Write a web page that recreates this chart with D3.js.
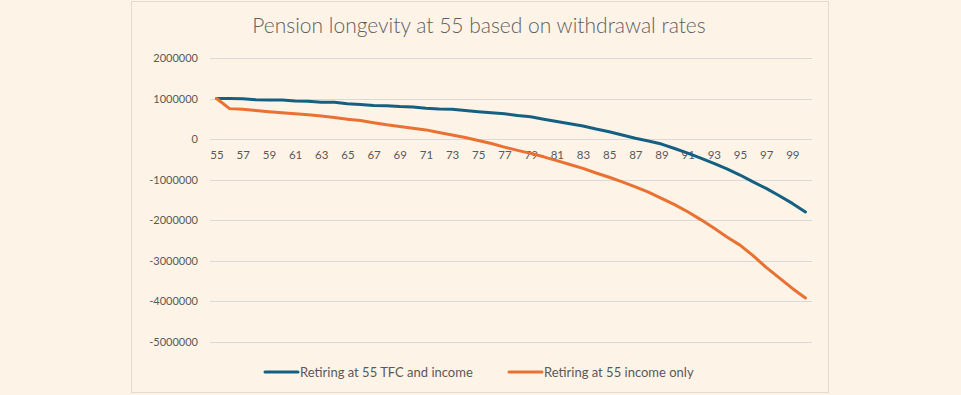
<!DOCTYPE html>
<html>
<head>
<meta charset="utf-8">
<script src="https://cdn.jsdelivr.net/npm/d3@7"></script>
<style>
  html, body { margin: 0; padding: 0; background: #FDF3E7; }
  svg { display: block; }
  text { font-family: Lato, "Open Sans", sans-serif; }
</style>
</head>
<body>
<svg id="chart" width="961" height="395"></svg>
<script>
const ages = d3.range(55, 101);
const tfcAndIncome = [
  1000000, 1000000, 995000, 970000, 965000, 960000, 940000, 935000, 910000, 905000,
  870000, 850000, 825000, 820000, 800000, 790000, 760000, 740000, 735000, 705000,
  675000, 650000, 625000, 580000, 550000, 490000, 430000, 375000, 320000, 245000,
  180000, 100000, 20000, -50000, -125000, -235000, -350000, -470000, -600000, -740000,
  -890000, -1060000, -1220000, -1400000, -1590000, -1800000
];
const incomeOnly = [
  1000000, 750000, 735000, 705000, 675000, 650000, 625000, 600000, 570000, 530000,
  490000, 455000, 400000, 350000, 310000, 265000, 225000, 160000, 100000, 35000,
  -35000, -110000, -200000, -280000, -355000, -440000, -535000, -630000, -725000, -840000,
  -945000, -1060000, -1180000, -1310000, -1465000, -1620000, -1795000, -1990000, -2200000, -2420000,
  -2620000, -2880000, -3170000, -3430000, -3690000, -3925000
];
const yTicks = [2000000, 1000000, 0, -1000000, -2000000, -3000000, -4000000, -5000000];
const seriesNames = ["Retiring at 55 TFC and income", "Retiring at 55 income only"];
const seriesColors = ["#156082", "#E97132"];
const title = "Pension longevity at 55 based on withdrawal rates";

const svg = d3.select("#chart");

// chart frame
svg.append("rect")
  .attr("x", 131.5).attr("y", 1.5).attr("width", 697).attr("height", 391)
  .attr("fill", "#FDF3E7").attr("stroke", "#E2DBD1").attr("stroke-width", 1);

const x = d3.scalePoint().domain(ages).range([210, 812]).padding(0.5);
const y = d3.scaleLinear().domain([-5000000, 2000000]).range([341.5, 58]);

// title
svg.append("text")
  .attr("x", 479).attr("y", 33)
  .attr("text-anchor", "middle")
  .attr("font-size", 21)
  .attr("font-weight", 300)
  .attr("fill", "#5F5F5F")
  .text(title);

// gridlines
svg.append("g").selectAll("line").data(yTicks).join("line")
  .attr("x1", 210).attr("x2", 812)
  .attr("y1", d => Math.round(y(d)) + 0.5).attr("y2", d => Math.round(y(d)) + 0.5)
  .attr("stroke", "#D9D9D9").attr("stroke-width", 1);

// y axis
const yAxis = d3.axisLeft(y).tickValues(yTicks).tickSize(0).tickPadding(0)
  .tickFormat(d => String(d));
const gy = svg.append("g").attr("transform", "translate(198,0)").call(yAxis);
gy.select(".domain").remove();
gy.selectAll("text").attr("font-size", 11).attr("fill", "#595959")
  .attr("font-family", "Lato, 'Open Sans', sans-serif");

// x axis
const xAxis = d3.axisBottom(x).tickValues(ages.filter((a, i) => i % 2 === 0))
  .tickSize(0).tickPadding(12);
const gx = svg.append("g").attr("transform", `translate(0,${y(0)})`).call(xAxis);
gx.select(".domain").remove();
gx.selectAll("text").attr("font-size", 11.5).attr("fill", "#595959")
  .attr("font-family", "Lato, 'Open Sans', sans-serif");

// lines
const line = d3.line().x((d, i) => x(ages[i])).y(d => y(d)).curve(d3.curveLinear);
[tfcAndIncome, incomeOnly].forEach((s, k) => {
  svg.append("path").datum(s)
    .attr("d", line)
    .attr("fill", "none")
    .attr("stroke", seriesColors[k])
    .attr("stroke-width", 3)
    .attr("stroke-linejoin", "round")
    .attr("stroke-linecap", "round");
});

// legend
const legendX = [265, 509];
const legendY = 372;
seriesNames.forEach((name, k) => {
  const g = svg.append("g");
  g.append("line")
    .attr("x1", legendX[k]).attr("x2", legendX[k] + 33)
    .attr("y1", legendY).attr("y2", legendY)
    .attr("stroke", seriesColors[k]).attr("stroke-width", 3)
    .attr("stroke-linecap", "round");
  g.append("text")
    .attr("x", legendX[k] + 35).attr("y", legendY + 4.5)
    .attr("font-size", 13).attr("fill", "#595959")
    .text(name);
});
</script>
</body>
</html>
